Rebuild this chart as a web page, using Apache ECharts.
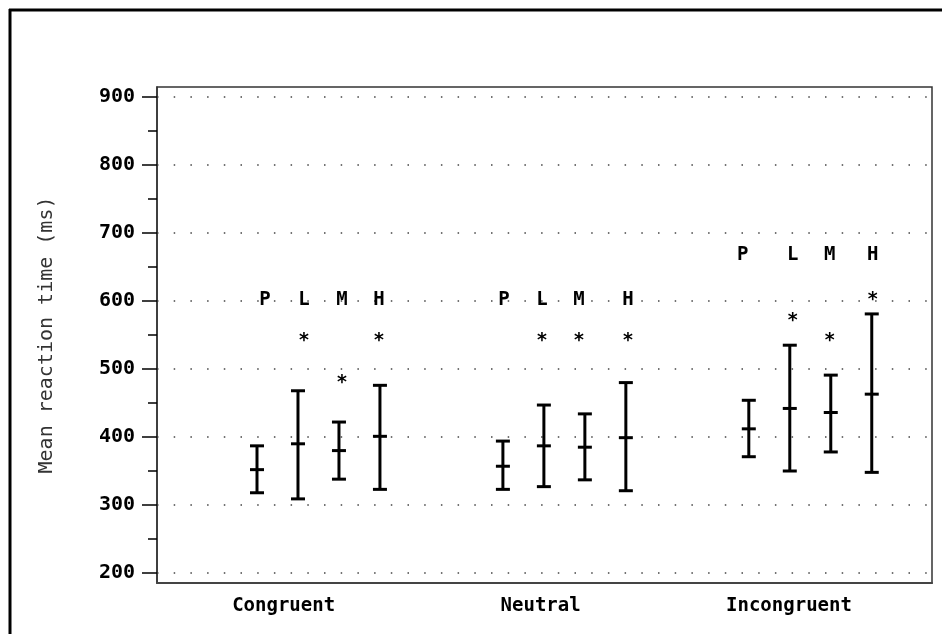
<!DOCTYPE html>
<html>
<head>
<meta charset="utf-8">
<script src="https://cdn.jsdelivr.net/npm/echarts@6/dist/echarts.min.js"></script>
<style>
html,body{margin:0;padding:0;background:#fff;}
#chart{width:942px;height:634px;}
</style>
</head>
<body>
<div id="chart"></div>
<script>
// ---- data ----
const categories = ['Congruent', 'Neutral', 'Incongruent'];
const conditions = ['P', 'L', 'M', 'H'];
const meanRT  = [[352, 390, 380, 401], [357, 387, 385, 399], [412, 442, 436, 463]];
const lowerCI = [[318, 309, 338, 323], [323, 327, 337, 321], [371, 350, 378, 348]];
const upperCI = [[387, 468, 422, 476], [394, 447, 434, 480], [454, 535, 491, 581]];
const letterY = [602, 602, 667];
const starY   = [[null, 547, 485, 547], [null, 547, 547, 547], [null, 576, 547, 607]];
const yMajorTicks = [200, 300, 400, 500, 600, 700, 800, 900];
const yMinorTicks = [250, 350, 450, 550, 650, 750, 850];

// ---- layout / style (not data) ----
const groupStride = 6;
const xLabelSlots = [0.65, 6.92, 12.98];
const annotDx = [[8, 6, 3, -1], [1, -2, -6, 2], [-6, 3, -1, 1]];
const monoFont = '"DejaVu Sans Mono", monospace';

const barData = [], letterData = [], starData = [];
categories.forEach((c, g) => {
  conditions.forEach((k, i) => {
    const x = g * groupStride + i;
    barData.push([x, lowerCI[g][i], meanRT[g][i], upperCI[g][i]]);
    letterData.push([x, letterY[g], k, annotDx[g][i]]);
    if (starY[g][i] != null) starData.push([x, starY[g][i], '*', annotDx[g][i]]);
  });
});

const chart = echarts.init(document.getElementById('chart'), null, {renderer: 'canvas'});

function textRender(dy, size) {
  return function (params, api) {
    const p = api.coord([api.value(0), api.value(1)]);
    return {
      type: 'text',
      style: {
        text: params.seriesName === 'letters' ? letterData[params.dataIndex][2] : '*',
        x: p[0] + api.value(3),
        y: p[1] + dy,
        fill: '#000',
        font: 'bold ' + size + 'px ' + monoFont,
        align: 'center',
        verticalAlign: 'middle'
      }
    };
  };
}

const option = {
  animation: false,
  backgroundColor: '#ffffff',
  grid: {left: 157, top: 87, right: 10, bottom: 51, show: true, borderColor: '#333', borderWidth: 1.5, backgroundColor: 'transparent'},
  xAxis: {
    type: 'value', min: -2.44, max: 16.47,
    splitLine: {show: false},
    axisTick: {show: false},
    axisLine: {show: true, onZero: false, lineStyle: {color: '#444', width: 2}},
    axisLabel: {
      customValues: xLabelSlots,
      margin: 14,
      color: '#000',
      fontFamily: monoFont,
      fontWeight: 'bold',
      fontSize: 19,
      formatter: function (v) {
        let best = 0;
        xLabelSlots.forEach((s, i) => { if (Math.abs(s - v) < Math.abs(xLabelSlots[best] - v)) best = i; });
        return categories[best];
      }
    }
  },
  yAxis: [{
    type: 'value', min: 185.3, max: 914.7,
    name: 'Mean reaction time (ms)',
    nameLocation: 'middle', nameRotate: 90, nameGap: 100,
    nameTextStyle: {fontFamily: monoFont, fontSize: 20, color: '#333'},
    axisLine: {show: true, onZero: false, lineStyle: {color: '#333', width: 1.5}},
    axisTick: {show: true, customValues: yMajorTicks, length: 15, lineStyle: {color: '#000', width: 1.5}},
    axisLabel: {customValues: yMajorTicks, margin: 22, color: '#000', fontFamily: monoFont, fontWeight: 'bold', fontSize: 20},
    splitLine: {show: true, lineStyle: {color: '#444', width: 1.5, type: [1.5, 15.2]}}
  }, {
    type: 'value', min: 185.3, max: 914.7, position: 'left',
    axisLine: {show: false, onZero: false},
    axisTick: {show: true, customValues: yMinorTicks, length: 9, lineStyle: {color: '#000', width: 1.5}},
    axisLabel: {show: false},
    splitLine: {show: false}
  }],
  series: [{
    type: 'custom', name: 'bars',
    data: barData,
    renderItem: function (params, api) {
      const x = api.value(0);
      const lo = api.coord([x, api.value(1)]);
      const mid = api.coord([x, api.value(2)]);
      const hi = api.coord([x, api.value(3)]);
      const hw = 7;
      const st = {stroke: '#000', lineWidth: 3};
      return {
        type: 'group',
        children: [
          {type: 'line', shape: {x1: lo[0], y1: lo[1], x2: hi[0], y2: hi[1]}, style: st},
          {type: 'line', shape: {x1: lo[0] - hw, y1: lo[1], x2: lo[0] + hw, y2: lo[1]}, style: st},
          {type: 'line', shape: {x1: mid[0] - hw, y1: mid[1], x2: mid[0] + hw, y2: mid[1]}, style: st},
          {type: 'line', shape: {x1: hi[0] - hw, y1: hi[1], x2: hi[0] + hw, y2: hi[1]}, style: st}
        ]
      };
    }
  }, {
    type: 'custom', name: 'letters', data: letterData,
    renderItem: textRender(0, 19)
  }, {
    type: 'custom', name: 'stars', data: starData,
    renderItem: textRender(4, 19)
  }],
  graphic: [
    {type: 'line', shape: {x1: 10, y1: 9, x2: 10, y2: 634}, style: {stroke: '#000', lineWidth: 3}},
    {type: 'line', shape: {x1: 9, y1: 10, x2: 942, y2: 10}, style: {stroke: '#000', lineWidth: 3}}
  ]
};
chart.setOption(option);
</script>
</body>
</html>
